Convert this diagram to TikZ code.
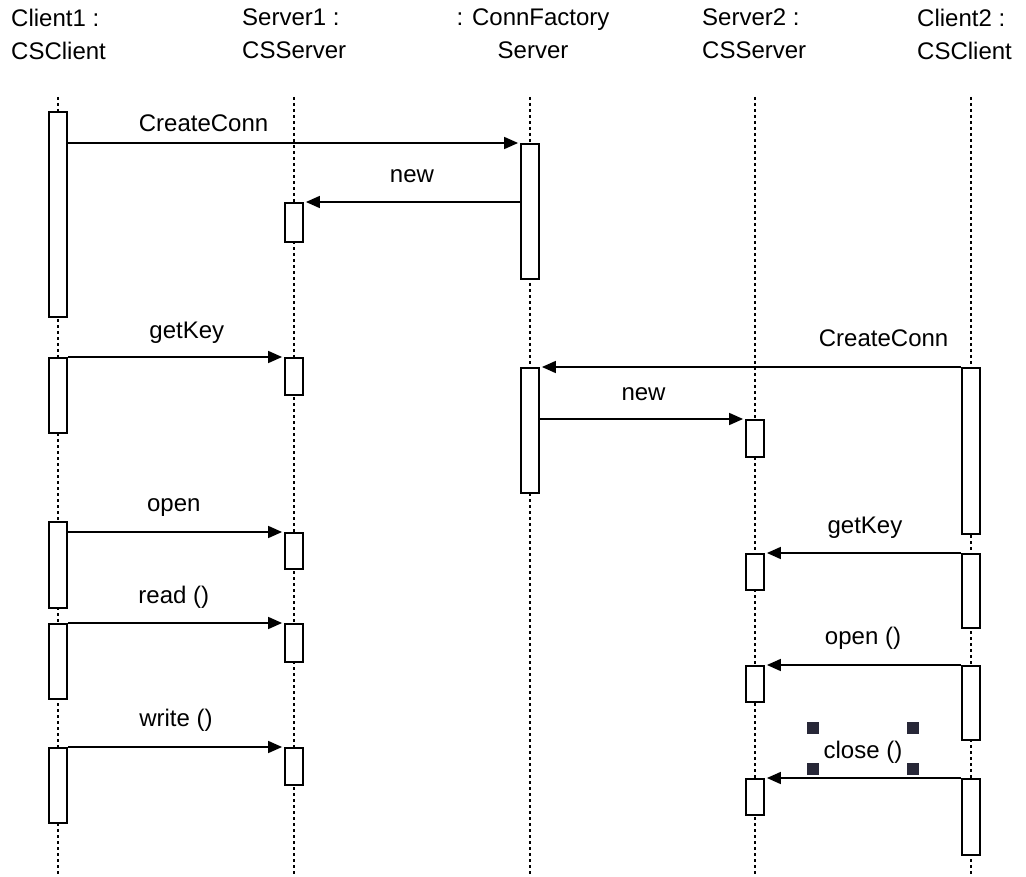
\documentclass[tikz,border=0pt]{standalone}
\usepackage{fontspec}
\setmainfont{Liberation Sans}
\usetikzlibrary{arrows.meta}
\definecolor{handlegray}{RGB}{40,40,56}
\begin{document}
\begin{tikzpicture}[x = 1pt, y = -1pt,
  head/.style = {inner sep = 0pt, align = left, anchor = north west, font = \fontsize{24}{33}\selectfont},
  lifeline/.style = {line width = 1.6pt, dash pattern = on 3pt off 3pt},
  act/.style = {draw, line width = 1.8pt, fill = white, anchor = north, minimum width = 18pt, inner sep = 0pt},
  msg/.style = {line width = 1.6pt, -{Triangle[length = 14pt, width = 12pt]}, shorten > = 2pt},
  lbl/.style = {anchor = base, inner sep = 0pt, font = \fontsize{24}{28}\selectfont},
  handle/.style = {fill = handlegray}]
\useasboundingbox (0, 0) rectangle (1026, 877);
\node[head] (c1) at (11, 9) {Client1 :\\CSClient};
\node[head] (s1) at (242, 9) {Server1 :\\CSServer};
\node[head, align = center, anchor = north] (cf) at (533, 9) {: ConnFactory\\Server};
\node[head] (s2) at (702, 9) {Server2 :\\CSServer};
\node[head] (c2) at (917, 9) {Client2 :\\CSClient};
\draw[lifeline] (58, 97) -- (58, 877);
\draw[lifeline] (294, 97) -- (294, 877);
\draw[lifeline] (530, 97) -- (530, 877);
\draw[lifeline] (755, 97) -- (755, 877);
\draw[lifeline] (971, 97) -- (971, 877);
\node[act, minimum height = 205pt] (c1a) at (58, 111) {};
\node[act, minimum height = 75pt] (c1b) at (58, 357) {};
\node[act, minimum height = 86pt] (c1c) at (58, 521) {};
\node[act, minimum height = 75pt] (c1d) at (58, 623) {};
\node[act, minimum height = 75pt] (c1e) at (58, 747) {};
\node[act, minimum height = 39pt] (s1a) at (294, 202) {};
\node[act, minimum height = 37pt] (s1b) at (294, 357) {};
\node[act, minimum height = 36pt] (s1c) at (294, 532) {};
\node[act, minimum height = 38pt] (s1d) at (294, 623) {};
\node[act, minimum height = 37pt] (s1e) at (294, 747) {};
\node[act, minimum height = 135pt] (cfa) at (530, 143) {};
\node[act, minimum height = 125pt] (cfb) at (530, 367) {};
\node[act, minimum height = 37pt] (s2a) at (755, 419) {};
\node[act, minimum height = 36pt] (s2b) at (755, 553) {};
\node[act, minimum height = 36pt] (s2c) at (755, 665) {};
\node[act, minimum height = 36pt] (s2d) at (755, 778) {};
\node[act, minimum height = 166pt] (c2a) at (971, 367) {};
\node[act, minimum height = 74pt] (c2b) at (971, 553) {};
\node[act, minimum height = 74pt] (c2c) at (971, 665) {};
\node[act, minimum height = 76pt] (c2d) at (971, 778) {};
\draw[msg] (c1a.east |- cfa.north west) -- (cfa.north west) node[lbl, pos = 0.3, yshift = 11pt] (lcreate1) {CreateConn};
\draw[msg] (cfa.west |- s1a.north east) -- (s1a.north east) node[lbl, pos = 0.5, yshift = 19pt] (lnew1) {new};
\draw[msg] (c1b.east |- s1b.north west) -- (s1b.north west) node[lbl, pos = 0.55, yshift = 18pt] (lkey1) {getKey};
\draw[msg] (c2a.west |- cfb.north east) -- (cfb.north east) node[lbl, pos = 0.184, yshift = 20pt] (lcreate2) {CreateConn};
\draw[msg] (cfb.east |- s2a.north west) -- (s2a.north west) node[lbl, pos = 0.505, yshift = 19pt] (lnew2) {new};
\draw[msg] (c1c.east |- s1c.north west) -- (s1c.north west) node[lbl, pos = 0.49, yshift = 21pt] (lopen1) {open};
\draw[msg] (c2b.west |- s2b.north east) -- (s2b.north east) node[lbl, pos = 0.49, yshift = 20pt] (lkey2) {getKey};
\draw[msg] (c1d.east |- s1d.north west) -- (s1d.north west) node[lbl, pos = 0.49, yshift = 20pt] (lread) {read ()};
\draw[msg] (c2c.west |- s2c.north east) -- (s2c.north east) node[lbl, pos = 0.5, yshift = 21pt] (lopen2) {open ()};
\draw[msg] (c1e.east |- s1e.north west) -- (s1e.north west) node[lbl, pos = 0.5, yshift = 21pt] (lwrite) {write ()};
\draw[msg] (c2d.west |- s2d.north east) -- (s2d.north east) node[lbl, pos = 0.5, yshift = 20pt] (lclose) {close ()};
\fill[handle] (807, 722) rectangle ++(12, 12);
\fill[handle] (907, 722) rectangle ++(12, 12);
\fill[handle] (807, 763) rectangle ++(12, 12);
\fill[handle] (907, 763) rectangle ++(12, 12);
\end{tikzpicture}
\end{document}
